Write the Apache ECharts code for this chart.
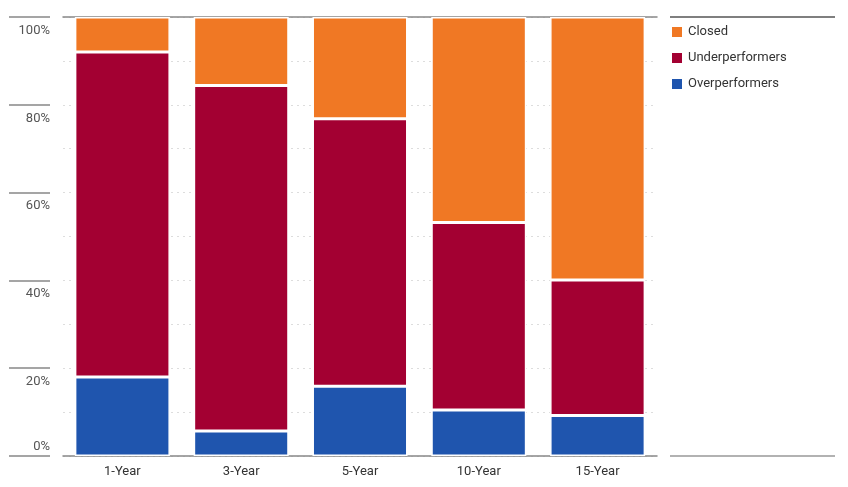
<!DOCTYPE html>
<html>
<head>
<meta charset="utf-8">
<script src="https://cdn.jsdelivr.net/npm/echarts@6/dist/echarts.min.js"></script>
<style>
html,body{margin:0;padding:0;background:#fff;}
#main{width:848px;height:487px;}
</style>
</head>
<body>
<div id="main"></div>
<script>
var categories = ['1-Year', '3-Year', '5-Year', '10-Year', '15-Year'];
var overperformers = [18.0, 5.7, 15.9, 10.5, 9.2];
var underperformers = [74.0, 78.7, 60.9, 42.7, 30.9];
var closedFunds = [8.0, 15.6, 23.2, 46.8, 59.9];
var legendNames = ['Closed', 'Underperformers', 'Overperformers'];

var font = "'Liberation Sans Narrow', 'Roboto', sans-serif";

function chart(){
	var myChart = echarts.init(document.getElementById('main'));
	var option = {
		animation: false,
		textStyle: { fontFamily: font },
		grid: { left: 63, right: 191, top: 17, bottom: 31 },
		legend: {
			orient: 'vertical',
			left: 665,
			top: 20,
			itemWidth: 12,
			itemHeight: 12,
			itemGap: 12,
			icon: 'rect',
			data: legendNames,
			textStyle: { fontFamily: font, fontSize: 13, color: '#333' }
		},
		xAxis: [{
			type: 'category',
			data: categories,
			axisLine: { onZero: false, lineStyle: { color: '#888', width: 1.5 } },
			axisTick: { show: false },
			axisLabel: { color: '#333', fontSize: 13, fontFamily: font, margin: 9 }
		}, {
			type: 'category',
			data: categories,
			position: 'top',
			axisLine: { onZero: false, lineStyle: { color: '#888', width: 1.5 } },
			axisTick: { show: false },
			axisLabel: { show: false }
		}],
		yAxis: [{
			type: 'value', min: 0, max: 100, interval: 20,
			position: 'left', offset: 13,
			axisLine: { show: true, lineStyle: { color: 'rgba(0,0,0,0)' } },
			axisTick: { show: true, length: 41, lineStyle: { color: '#888', width: 1.5 } },
			splitLine: { show: false },
			axisLabel: {
				margin: 0, verticalAlign: 'top', padding: [7, 0, 0, 0],
				color: '#555', fontSize: 13, fontFamily: font,
				formatter: function(v){ return v === 0 ? '' : v + '%'; }
			}
		}, {
			type: 'value', min: 0, max: 100, interval: 20,
			position: 'left', offset: 13,
			axisLine: { show: false },
			axisTick: { show: false },
			splitLine: { show: false },
			axisLabel: {
				margin: 0, verticalAlign: 'bottom', padding: [0, 0, 3, 0],
				color: '#555', fontSize: 13, fontFamily: font,
				formatter: function(v){ return v === 0 ? '0%' : ''; }
			}
		}, {
			type: 'value', min: 0, max: 100, interval: 10,
			position: 'right',
			axisLine: { show: false },
			axisTick: { show: false },
			axisLabel: { show: false },
			splitLine: { show: true, lineStyle: { color: '#ddd', type: [2, 4], width: 1 } }
		}],
		graphic: [
			{ type: 'line', shape: { x1: 670, y1: 17, x2: 835, y2: 17 }, style: { stroke: '#555', lineWidth: 1.5 } },
			{ type: 'line', shape: { x1: 670, y1: 456, x2: 835, y2: 456 }, style: { stroke: '#999', lineWidth: 1.5 } }
		],
		series: [{
			name: 'Overperformers', type: 'bar', stack: 'total', data: overperformers,
			barCategoryGap: '20%',
			itemStyle: { color: '#1F55AE', borderColor: '#fff', borderWidth: 1.5 }
		}, {
			name: 'Underperformers', type: 'bar', stack: 'total', data: underperformers,
			itemStyle: { color: '#A30032', borderColor: '#fff', borderWidth: 1.5 }
		}, {
			name: 'Closed', type: 'bar', stack: 'total', data: closedFunds,
			itemStyle: { color: '#F07824', borderColor: '#fff', borderWidth: 1.5 }
		}]
	};
	myChart.setOption(option);
}
chart();
</script>
</body>
</html>
